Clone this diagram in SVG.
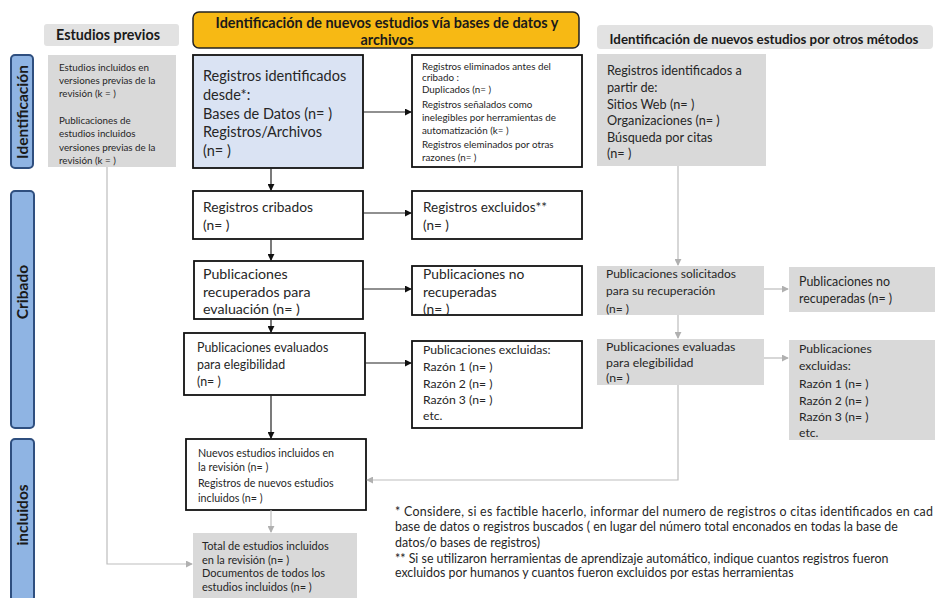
<svg xmlns="http://www.w3.org/2000/svg" width="937" height="598" viewBox="0 0 937 598">
<style>
text{font-family:Lato,"Open Sans","DejaVu Sans",sans-serif;fill:#262626}
.bar{fill:#8fb4e3;stroke:#2f4f7f;stroke-width:2}
.bt{font-weight:bold;font-size:15.5px;fill:#1a1a1a;text-anchor:middle}
.wbox{fill:#fff;stroke:#111;stroke-width:1.8}
.gbox{fill:#d9d9d9;stroke:none}
.hdr{font-weight:bold;fill:#1a1a1a}
.c{fill:none;stroke:#222;stroke-width:1.2}
.g{fill:none;stroke:#bdbdbd;stroke-width:1.2}
</style>
<defs>
<marker id="ab" viewBox="0 0 8 8" refX="7" refY="4" markerWidth="7" markerHeight="7" markerUnits="userSpaceOnUse" orient="auto"><path d="M0,0 L8,4 L0,8 z" fill="#111"/></marker>
<marker id="ag" viewBox="0 0 8 8" refX="7" refY="4" markerWidth="7" markerHeight="7" markerUnits="userSpaceOnUse" orient="auto"><path d="M0,0 L8,4 L0,8 z" fill="#b0b0b0"/></marker>
</defs>
<rect width="937" height="598" fill="#fff"/>

<g id="bar-identificacion"><rect class="bar" x="11" y="55" width="22" height="113" rx="4"/><text class="bt" transform="translate(27.5,112) rotate(-90)">Identificación</text></g>
<g id="bar-cribado"><rect class="bar" x="11" y="191" width="23" height="237" rx="4"/><text class="bt" transform="translate(28,292) rotate(-90)">Cribado</text></g>
<g id="bar-incluidos"><rect class="bar" x="11" y="439" width="23" height="162" rx="4"/><text class="bt" transform="translate(28,515) rotate(-90)">incluidos</text></g>

<g id="hdr-previos"><rect x="44" y="24" width="135" height="22" rx="3" fill="#e2e2e2"/><text class="hdr" x="108" y="40" font-size="14.3" text-anchor="middle">Estudios previos</text></g>
<g id="hdr-bases"><rect x="193" y="12" width="386" height="36" rx="6" fill="#f7b914" stroke="#222" stroke-width="1.5"/><text class="hdr" x="387" y="28" font-size="14.4" text-anchor="middle">Identificación de nuevos estudios vía bases de datos y</text><text class="hdr" x="387" y="45" font-size="14.4" text-anchor="middle">archivos</text></g>
<g id="hdr-otros"><rect x="597" y="25" width="336" height="24" rx="4" fill="#e2e2e2"/><text class="hdr" x="764" y="44" font-size="13.3" text-anchor="middle">Identificación  de nuevos estudios por otros métodos</text></g>

<g id="n-previos"><rect class="gbox" x="48" y="55" width="128" height="112"/>
<text font-size="9.8" fill="#404040"><tspan x="59" y="71">Estudios incluidos en</tspan><tspan x="59" y="84">versiones previas de la</tspan><tspan x="59" y="97">revisión (k = )</tspan><tspan x="59" y="124">Publicaciones de</tspan><tspan x="59" y="137">estudios incluidos</tspan><tspan x="59" y="151">versiones previas de la</tspan><tspan x="59" y="164">revisión (k = )</tspan></text></g>

<g id="n-identificados"><rect class="wbox" x="193" y="55" width="170" height="113" style="fill:#dae3f3"/>
<text font-size="14.5"><tspan x="203" y="81">Registros identificados</tspan><tspan x="203" y="100">desde*:</tspan><tspan x="203" y="118.5">Bases de Datos (n= )</tspan><tspan x="203" y="137">Registros/Archivos</tspan><tspan x="203" y="155.5">(n= )</tspan></text></g>

<g id="n-eliminados"><rect class="wbox" x="412" y="55" width="170" height="112"/>
<text font-size="9.8"><tspan x="422" y="70">Registros eliminados antes del</tspan><tspan x="422" y="81">cribado :</tspan><tspan x="422" y="93">Duplicados (n= )</tspan><tspan x="422" y="108">Registros señalados como</tspan><tspan x="422" y="121">inelegibles por herramientas de</tspan><tspan x="422" y="134">automatización (k= )</tspan><tspan x="422" y="148">Registros eleminados por otras</tspan><tspan x="422" y="161">razones (n= )</tspan></text></g>

<g id="n-cribados"><rect class="wbox" x="193" y="191" width="170" height="48"/>
<text font-size="13.8"><tspan x="203" y="212">Registros cribados</tspan><tspan x="203" y="230">(n= )</tspan></text></g>

<g id="n-excluidos"><rect class="wbox" x="412" y="191" width="170" height="48" stroke-width="2.2"/>
<text font-size="13.5"><tspan x="423" y="212">Registros excluidos**</tspan><tspan x="423" y="230">(n= )</tspan></text></g>

<g id="n-recuperados"><rect class="wbox" x="194" y="261" width="169" height="58"/>
<text font-size="14.2"><tspan x="203" y="279">Publicaciones</tspan><tspan x="203" y="297">recuperados para</tspan><tspan x="203" y="314">evaluación (n= )</tspan></text></g>

<g id="n-norecuperadas"><rect class="wbox" x="412" y="266" width="170" height="49"/>
<text font-size="13.8"><tspan x="423" y="279">Publicaciones no</tspan><tspan x="423" y="297">recuperadas</tspan><tspan x="423" y="314">(n= )</tspan></text></g>

<g id="n-evaluados"><rect class="wbox" x="184" y="333" width="181" height="62"/>
<text font-size="12.4"><tspan x="197" y="352">Publicaciones evaluados</tspan><tspan x="197" y="369">para elegibilidad</tspan><tspan x="197" y="386">(n= )</tspan></text></g>

<g id="n-excluidas"><rect class="wbox" x="412" y="341" width="170" height="87"/>
<text font-size="12.2"><tspan x="423" y="354">Publicaciones excluidas:</tspan><tspan x="423" y="371">Razón 1 (n= )</tspan><tspan x="423" y="388">Razón 2 (n= )</tspan><tspan x="423" y="404">Razón 3 (n= )</tspan><tspan x="423" y="420">etc.</tspan></text></g>

<g id="n-nuevos"><rect class="wbox" x="186" y="439" width="180" height="71"/>
<text font-size="10.7"><tspan x="198" y="457">Nuevos estudios incluidos en</tspan><tspan x="198" y="471">la revisión (n= )</tspan><tspan x="198" y="487">Registros de nuevos estudios</tspan><tspan x="198" y="502">incluidos (n= )</tspan></text></g>

<g id="n-total"><rect class="gbox" x="193" y="533" width="164" height="65"/>
<text font-size="11"><tspan x="202" y="550">Total de estudios incluidos</tspan><tspan x="202" y="563.5">en la revisión (n= )</tspan><tspan x="202" y="577">Documentos de todos los</tspan><tspan x="202" y="590.5">estudios incluidos (n= )</tspan></text></g>

<g id="n-otros"><rect class="gbox" x="597" y="54" width="169" height="112"/>
<text font-size="12.7"><tspan x="607" y="75">Registros identificados a</tspan><tspan x="607" y="92">partir de:</tspan><tspan x="607" y="108.5">Sitios Web (n= )</tspan><tspan x="607" y="125">Organizaciones (n= )</tspan><tspan x="607" y="141.5">Búsqueda por citas</tspan><tspan x="607" y="158">(n= )</tspan></text></g>

<g id="n-solicitados"><rect class="gbox" x="597" y="266" width="167" height="49"/>
<text font-size="12"><tspan x="606" y="278">Publicaciones solicitados</tspan><tspan x="606" y="295">para su recuperación</tspan><tspan x="606" y="313">(n= )</tspan></text></g>

<g id="n-norecuperadas2"><rect class="gbox" x="789" y="267" width="146" height="45"/>
<text font-size="12.4"><tspan x="799" y="286">Publicaciones no</tspan><tspan x="799" y="303">recuperadas (n= )</tspan></text></g>

<g id="n-evaluadas2"><rect class="gbox" x="597" y="339" width="167" height="46"/>
<text font-size="12.3"><tspan x="606" y="351">Publicaciones evaluadas</tspan><tspan x="606" y="366.5">para elegibilidad</tspan><tspan x="606" y="382">(n= )</tspan></text></g>

<g id="n-excluidas2"><rect class="gbox" x="789" y="340" width="146" height="100"/>
<text font-size="12.2"><tspan x="799" y="353">Publicaciones</tspan><tspan x="799" y="370">excluidas:</tspan><tspan x="799" y="388">Razón 1 (n= )</tspan><tspan x="799" y="405">Razón 2 (n= )</tspan><tspan x="799" y="421">Razón 3 (n= )</tspan><tspan x="799" y="437">etc.</tspan></text></g>

<g id="notes"><text font-size="12.4"><tspan x="395" y="516" textLength="538" lengthAdjust="spacing">* Considere, si es factible hacerlo, informar del numero de registros o citas identificados en cad</tspan><tspan x="395" y="531">base de datos o registros buscados ( en lugar del número total enconados en todas la base de</tspan><tspan x="395" y="547">datos/o bases de registros)</tspan><tspan x="395" y="563">** Si se utilizaron herramientas de aprendizaje automático, indique cuantos registros fueron</tspan><tspan x="395" y="577">excluidos por humanos y cuantos fueron excluidos por estas herramientas</tspan></text></g>

<g id="connectors">
<path class="c" d="M271,168 V190" marker-end="url(#ab)"/>
<path class="c" d="M363,112 H411" marker-end="url(#ab)"/>
<path class="c" d="M271,239 V260" marker-end="url(#ab)"/>
<path class="c" d="M363,213 H411" marker-end="url(#ab)"/>
<path class="c" d="M271,319 V332" marker-end="url(#ab)"/>
<path class="c" d="M363,289 H411" marker-end="url(#ab)"/>
<path class="c" d="M271,395 V438" marker-end="url(#ab)"/>
<path class="c" d="M365,363 H411" marker-end="url(#ab)"/>
<path class="g" d="M678,166 V265" marker-end="url(#ag)"/>
<path class="g" d="M764,289 H788" marker-end="url(#ag)"/>
<path class="g" d="M678,315 V338" marker-end="url(#ag)"/>
<path class="g" d="M764,358 H788" marker-end="url(#ag)"/>
<path class="g" d="M678,385 V480 H367" marker-end="url(#ag)"/>
<path class="g" d="M271,510 V532" marker-end="url(#ag)"/>
<path class="g" d="M107,167 V564 H192" marker-end="url(#ag)"/>
</g>
</svg>
